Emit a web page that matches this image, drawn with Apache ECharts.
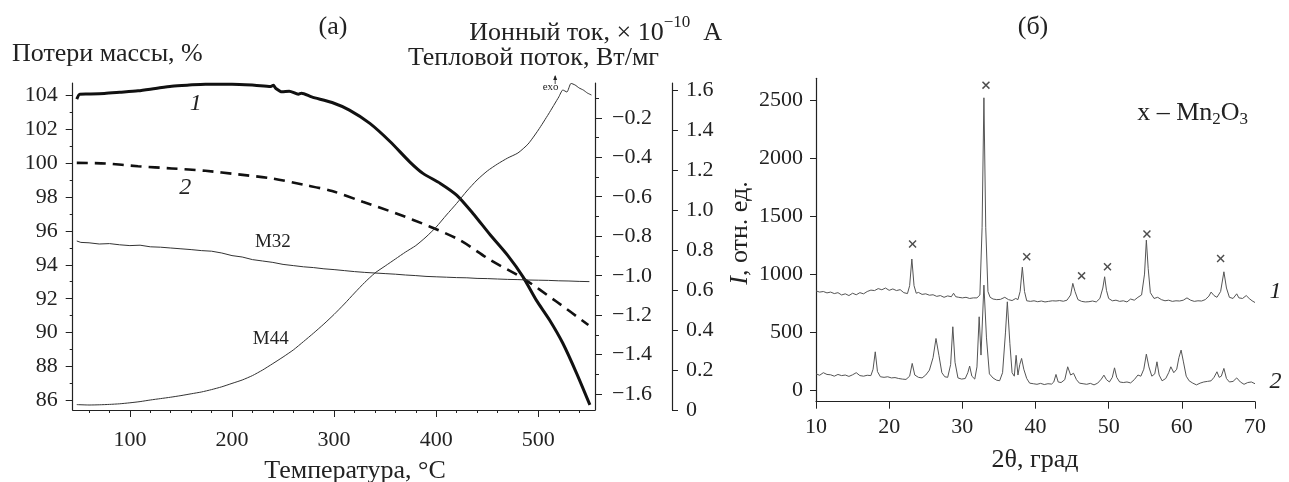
<!DOCTYPE html>
<html><head><meta charset="utf-8">
<script src="https://cdn.jsdelivr.net/npm/echarts@6/dist/echarts.min.js"></script>
<style>html,body{margin:0;padding:0;background:#fff}#c{width:1289px;height:482px}</style>
</head><body><div id="c"></div>
<script>
// ---------- (а) thermal analysis ----------
const massCurve1 = [[48,103.75],[51,104.04],[60,104.05],[75,104.08],[90,104.15],[108,104.24],[125,104.38],[141,104.51],[158,104.58],[174,104.63],[200,104.63],[222,104.57],[238,104.5],[240.5,104.57],[243,104.38],[249,104.18],[256,104.22],[265,104.04],[268,104.1],[278,103.88],[298,103.55],[315,103.1],[335,102.32],[355,101.24],[374,100.06],[387,99.38],[404,98.79],[420,98.1],[436,97.02],[453,95.75],[470,94.55],[485,93.29],[498,91.92],[511,90.75],[524,89.38],[537.5,87.61],[550.5,85.75]];
const massCurve2 = [[48,100.0],[76,99.96],[108,99.8],[141,99.67],[174,99.53],[206,99.32],[239,99.08],[272,98.69],[298,98.34],[328,97.71],[361,97.02],[394,96.24],[423,95.45],[453,94.28],[485,93.2],[518,91.82],[549,90.45]];
const ionM32 = [[48,0.845],[52,0.838],[60,0.836],[70,0.830],[80,0.832],[90,0.826],[100,0.822],[110,0.824],[120,0.816],[130,0.814],[140,0.810],[150,0.806],[160,0.802],[170,0.797],[180,0.794],[190,0.785],[200,0.772],[210,0.765],[220,0.752],[230,0.745],[240,0.738],[250,0.728],[260,0.722],[270,0.716],[280,0.712],[290,0.706],[300,0.702],[310,0.697],[320,0.692],[330,0.688],[340,0.685],[350,0.682],[360,0.679],[370,0.675],[380,0.672],[390,0.668],[400,0.666],[410,0.664],[420,0.662],[430,0.661],[440,0.658],[450,0.657],[460,0.655],[470,0.653],[480,0.652],[490,0.650],[500,0.649],[510,0.648],[520,0.646],[530,0.645],[540,0.643],[550,0.642]];
const ionM44Heat = [[48,0.027],[60,0.025],[70,0.026],[80,0.028],[90,0.031],[100,0.036],[110,0.042],[120,0.05],[130,0.057],[140,0.064],[150,0.072],[160,0.081],[170,0.09],[180,0.102],[190,0.116],[200,0.133],[210,0.15],[220,0.172],[230,0.2],[240,0.232],[250,0.265],[260,0.3],[270,0.342],[280,0.385],[290,0.43],[300,0.478],[310,0.53],[320,0.585],[330,0.638],[340,0.685],[350,0.72],[360,0.755],[370,0.79],[380,0.822],[390,0.865],[400,0.915],[410,0.975],[420,1.033],[430,1.095],[440,1.15],[450,1.195],[460,1.23],[470,1.26],[480,1.285],[490,1.33],[500,1.4],[510,1.48],[520,1.565],[524,1.6],[528,1.59],[532,1.633],[536,1.625],[540,1.61],[544,1.6],[548,1.585],[552,1.575]];
const tempTicks = [100,200,300,400,500];
const tempMinorTicks = [60,80,120,140,160,180,220,240,260,280,320,340,360,380,420,440,460,480,520,540];
const massTicks = [86,88,90,92,94,96,98,100,102,104];
const massMinorTicks = [87,89,91,93,95,97,99,101,103];
const heatTicks = [-1.6,-1.4,-1.2,-1.0,-0.8,-0.6,-0.4,-0.2];
const heatMinorTicks = [-1.5,-1.3,-1.1,-0.9,-0.7,-0.5,-0.3,-0.1];
const ionTicks = [0,0.2,0.4,0.6,0.8,1.0,1.2,1.4,1.6];
const leftLabels = [
  {text:'1', at:[164.6,103.48], y:0, italic:true, size:24},
  {text:'2', at:[154.2,98.55], y:0, italic:true, size:24},
  {text:'M32', at:[240,0.84], y:2, italic:false, size:19},
  {text:'M44', at:[238,0.355], y:2, italic:false, size:19},
  {text:'exo', at:[512,1.615], y:2, italic:false, size:11}
];
const exoArrow = [[516.5,1.63],[516.5,1.67]];

// ---------- (б) XRD ----------
const xrdCurve1 = [[10,855],[10.5,845],[11,850],[11.5,838],[12,845],[12.5,832],[13,840],[13.5,820],[14,830],[14.5,815],[15,835],[15.5,822],[16,840],[16.5,830],[17,850],[17.5,862],[18,858],[18.5,875],[19,865],[19.5,880],[20,860],[20.5,872],[21,858],[21.5,866],[22,840],[22.5,832],[22.8,900],[23.1,1130],[23.4,900],[23.7,835],[24,842],[24.5,825],[25,830],[25.5,818],[26,822],[26.5,808],[27,815],[27.5,800],[28,812],[28.5,805],[28.8,835],[29.1,805],[29.5,800],[30,795],[30.5,800],[31,790],[31.5,795],[32,795],[32.4,820],[32.7,1400],[32.95,2520],[33.2,1400],[33.5,850],[33.8,800],[34.2,785],[34.7,780],[35.2,782],[35.8,800],[36.3,780],[36.8,772],[37.3,790],[37.6,780],[37.9,850],[38.2,1060],[38.5,850],[38.8,770],[39.3,765],[39.8,770],[40.3,762],[40.8,768],[41.3,760],[41.8,765],[42.3,770],[42.8,768],[43.3,772],[43.8,766],[44.3,775],[44.8,820],[45.1,920],[45.4,850],[45.8,780],[46.3,765],[46.8,760],[47.3,762],[47.8,768],[48.3,760],[48.8,790],[49.2,880],[49.45,977],[49.7,860],[50,790],[50.5,770],[51,775],[51.5,765],[52,770],[52.5,760],[53,785],[53.5,775],[54,800],[54.5,820],[54.9,1000],[55.15,1293],[55.4,1050],[55.7,840],[56.2,790],[56.7,800],[57.2,780],[57.7,770],[58.2,775],[58.7,765],[59.2,770],[59.7,768],[60.2,775],[60.7,795],[61.2,775],[61.7,765],[62.2,770],[62.7,768],[63.2,780],[63.7,810],[64,845],[64.4,815],[64.8,800],[65.3,850],[65.75,1020],[66.1,880],[66.5,800],[67,790],[67.5,830],[67.8,795],[68.3,790],[68.8,815],[69.2,790],[69.6,770],[70,755]];
const xrdCurve2 = [[10,140],[10.5,128],[11,150],[11.5,135],[12,132],[12.5,120],[13,135],[13.5,125],[14,130],[14.5,118],[15,132],[15.5,150],[16,125],[16.5,120],[17,128],[17.5,125],[17.8,180],[18.1,330],[18.4,160],[18.8,115],[19.3,110],[19.8,115],[20.3,105],[20.8,108],[21.3,100],[21.8,95],[22.3,92],[22.8,120],[23.15,230],[23.5,130],[24,110],[24.5,105],[25,130],[25.5,172],[26,280],[26.4,445],[26.8,300],[27.2,150],[27.6,115],[28,110],[28.4,220],[28.7,546],[29,240],[29.4,105],[29.9,95],[30.4,100],[30.75,150],[31,207],[31.3,120],[31.7,95],[32,200],[32.3,632],[32.55,302],[32.95,905],[33.3,450],[33.7,140],[34.2,104],[34.7,85],[35.1,81],[35.5,150],[35.9,500],[36.15,761],[36.5,400],[36.8,150],[37.1,120],[37.35,300],[37.6,130],[37.85,220],[38.1,273],[38.4,180],[38.8,100],[39.2,60],[39.7,55],[40.2,50],[40.7,58],[41.2,48],[41.7,55],[42.2,52],[42.5,70],[42.8,135],[43.1,70],[43.5,65],[44,90],[44.4,201],[44.8,130],[45.2,145],[45.6,90],[46,60],[46.5,55],[47,50],[47.5,58],[48,45],[48.5,60],[49,95],[49.35,129],[49.7,90],[50.1,70],[50.5,110],[50.8,192],[51.1,110],[51.5,70],[52,65],[52.5,70],[53,62],[53.5,90],[54,130],[54.4,120],[54.8,180],[55.15,310],[55.5,200],[55.9,120],[56.3,140],[56.6,244],[56.9,130],[57.3,80],[57.8,100],[58.2,150],[58.5,201],[58.9,150],[59.3,180],[59.6,280],[59.9,345],[60.2,250],[60.6,120],[61,80],[61.5,60],[62,45],[62.5,60],[63,70],[63.5,75],[64,80],[64.4,110],[64.8,158],[65.1,110],[65.4,120],[65.75,187],[66.1,100],[66.5,70],[67,75],[67.5,105],[68,70],[68.5,50],[69,65],[69.5,70],[70,55]];
const mn2o3Peaks = [[23.2,1259],[33.23,2629],[38.8,1149],[46.3,985],[49.84,1063],[55.23,1345],[65.3,1135]];
const thetaTicks = [10,20,30,40,50,60,70];
const intensityTicks = [0,500,1000,1500,2000,2500];
const rightLabels = [
  {text:'1', at:[72.8,847]},
  {text:'2', at:[72.8,72]}
];
const legendAnchor = [53.9,2388];

const F = "'Liberation Serif','Times New Roman',serif";
const ink = '#222';
const lbl = {fontFamily:F, fontSize:22, color:ink};
const T = '26px ' + F;
const chart = echarts.init(document.getElementById('c'), null, {renderer:'canvas'});
const minus = v => String(v).replace('-', '\u2212');

function minorAxis(grid, pos, min, max, vals, len){
  return {gridIndex:grid, type:'value', position:pos, min:min, max:max,
    axisLine:{show:false, onZero:false}, splitLine:{show:false},
    axisTick:{show:true, customValues:vals, length:len, lineStyle:{color:ink}},
    axisLabel:{show:false}};
}

chart.setOption({
  animation:false,
  backgroundColor:'#fff',
  grid:[
    {left:72.7, right:694, top:83, bottom:72},
    {left:816, right:34, top:78.3, bottom:80.3}
  ],
  xAxis:[
    {gridIndex:0, type:'value', position:'bottom', min:44, max:555.5,
      axisLine:{onZero:false, lineStyle:{color:ink, width:1.2}},
      axisTick:{customValues:tempTicks, length:7, lineStyle:{color:ink}},
      axisLabel:Object.assign({customValues:tempTicks, margin:19}, lbl),
      splitLine:{show:false}},
    minorAxis(0,'bottom',44,555.5,tempMinorTicks,3),
    {gridIndex:1, type:'value', position:'bottom', min:10, max:70,
      axisLine:{onZero:false, lineStyle:{color:ink, width:1.2}},
      axisTick:{customValues:thetaTicks, length:7, lineStyle:{color:ink}},
      axisLabel:Object.assign({customValues:thetaTicks, margin:15}, lbl),
      splitLine:{show:false}}
  ],
  yAxis:[
    {gridIndex:0, type:'value', position:'left', min:85.45, max:104.7,
      axisLine:{show:true, onZero:false, lineStyle:{color:ink, width:1.2}},
      axisTick:{show:true, customValues:massTicks, length:7, lineStyle:{color:ink}},
      axisLabel:Object.assign({customValues:massTicks, margin:15}, lbl),
      splitLine:{show:false}},
    {gridIndex:0, type:'value', position:'right', min:-1.68, max:-0.024,
      axisLine:{show:true, onZero:false, lineStyle:{color:ink, width:1.2}},
      axisTick:{show:true, customValues:heatTicks, length:7, lineStyle:{color:ink}},
      axisLabel:Object.assign({customValues:heatTicks, margin:17, formatter:v=>minus(Number(v).toFixed(1))}, lbl),
      splitLine:{show:false}},
    {gridIndex:0, type:'value', position:'right', offset:77, min:0, max:1.635,
      axisLine:{show:true, onZero:false, lineStyle:{color:ink, width:1.2}},
      axisTick:{show:true, customValues:ionTicks, length:6, lineStyle:{color:ink}},
      axisLabel:Object.assign({customValues:ionTicks, margin:14, formatter:v=>Number(v)===0?'0':Number(v).toFixed(1)}, lbl),
      splitLine:{show:false}},
    minorAxis(0,'left',85.45,104.7,massMinorTicks,3),
    minorAxis(0,'right',-1.68,-0.024,heatMinorTicks,4),
    {gridIndex:1, type:'value', position:'left', min:-100, max:2688,
      axisLine:{show:true, onZero:false, lineStyle:{color:ink, width:1.2}},
      axisTick:{show:true, customValues:intensityTicks, length:6, lineStyle:{color:ink}},
      axisLabel:Object.assign({customValues:intensityTicks, margin:13, formatter:v=>String(v)}, lbl),
      splitLine:{show:false}}
  ],
  series:[
    {type:'line', xAxisIndex:0, yAxisIndex:0, data:massCurve1, showSymbol:false, smooth:0.25, clip:false,
      lineStyle:{color:'#111', width:3}},
    {type:'line', xAxisIndex:0, yAxisIndex:0, data:massCurve2, showSymbol:false, smooth:0.3, clip:false,
      lineStyle:{color:'#111', width:2.6, type:[11,7]}},
    {type:'line', xAxisIndex:0, yAxisIndex:2, data:ionM32, showSymbol:false, clip:false,
      lineStyle:{color:'#333', width:1}},
    {type:'line', xAxisIndex:0, yAxisIndex:2, data:ionM44Heat, showSymbol:false, smooth:0.2, clip:false,
      lineStyle:{color:'#333', width:1}},
    {type:'line', xAxisIndex:2, yAxisIndex:5, data:xrdCurve1, showSymbol:false,
      lineStyle:{color:'#555', width:1}},
    {type:'line', xAxisIndex:2, yAxisIndex:5, data:xrdCurve2, showSymbol:false,
      lineStyle:{color:'#555', width:1}},
    {type:'scatter', xAxisIndex:2, yAxisIndex:5, data:mn2o3Peaks, symbolSize:8,
      symbol:'path://M0,1.3L1.3,0L5,3.7L8.7,0L10,1.3L6.3,5L10,8.7L8.7,10L5,6.3L1.3,10L0,8.7L3.7,5Z',
      itemStyle:{color:'#222'}}
  ]
});

// annotations anchored through the axes' own scales
const g = [];
const txt = (x,y,text,opt) => g.push(Object.assign({type:'text', x:x, y:y, silent:true,
  style:Object.assign({text:text, fill:ink, font:T, align:'center', verticalAlign:'middle'}, opt||{})}));
leftLabels.forEach(l => {
  const p = chart.convertToPixel({xAxisIndex:0, yAxisIndex:l.y}, l.at);
  txt(p[0], p[1], l.text, {font:(l.italic?'italic ':'')+l.size+'px '+F});
});
const a0 = chart.convertToPixel({xAxisIndex:0, yAxisIndex:2}, exoArrow[0]);
const a1 = chart.convertToPixel({xAxisIndex:0, yAxisIndex:2}, exoArrow[1]);
g.push({type:'line', silent:true, shape:{x1:a0[0], y1:a0[1], x2:a1[0], y2:a1[1]}, style:{stroke:ink, lineWidth:0.8}});
g.push({type:'polygon', silent:true, shape:{points:[[a1[0]-2,a1[1]+4],[a1[0]+2,a1[1]+4],[a1[0],a1[1]-1]]}, style:{fill:ink}});
rightLabels.forEach(l => {
  const p = chart.convertToPixel({xAxisIndex:2, yAxisIndex:5}, l.at);
  txt(p[0], p[1], l.text, {font:'italic 24px '+F});
});
const lg = chart.convertToPixel({xAxisIndex:2, yAxisIndex:5}, legendAnchor);
g.push({type:'text', x:lg[0], y:lg[1], silent:true, style:{
  text:'{a|x – Mn}{s|2}{a|O}{s|3}', align:'left', verticalAlign:'middle',
  rich:{a:{font:T, fill:ink, height:30, verticalAlign:'bottom'},
        s:{font:'17px '+F, fill:ink, height:30, verticalAlign:'bottom', padding:[0,0,-6,0]}}}});
// titles and axis names
txt(333, 27, '(а)');
txt(1033, 27, '(б)');
txt(12, 54, 'Потери массы, %', {align:'left'});
g.push({type:'text', x:722, y:28, silent:true, style:{
  text:'{a|Ионный ток, × 10}{s|−10}{a|  А}', align:'right', verticalAlign:'middle',
  rich:{a:{font:T, fill:ink, height:30, verticalAlign:'bottom'},
        s:{font:'17px '+F, fill:ink, height:30, verticalAlign:'bottom', padding:[0,0,11,0]}}}});
txt(659, 58, 'Тепловой поток, Вт/мг', {align:'right'});
txt(355, 471, 'Температура, °С');
txt(1035, 460, '2θ, град');
g.push({type:'text', x:740, y:233, rotation:Math.PI/2, silent:true, style:{
  text:'{i|I}{a|, отн. ед.}', align:'center', verticalAlign:'middle',
  rich:{i:{font:'italic '+T, fill:ink}, a:{font:T, fill:ink}}}});
chart.setOption({graphic:g});
</script>
</body></html>
